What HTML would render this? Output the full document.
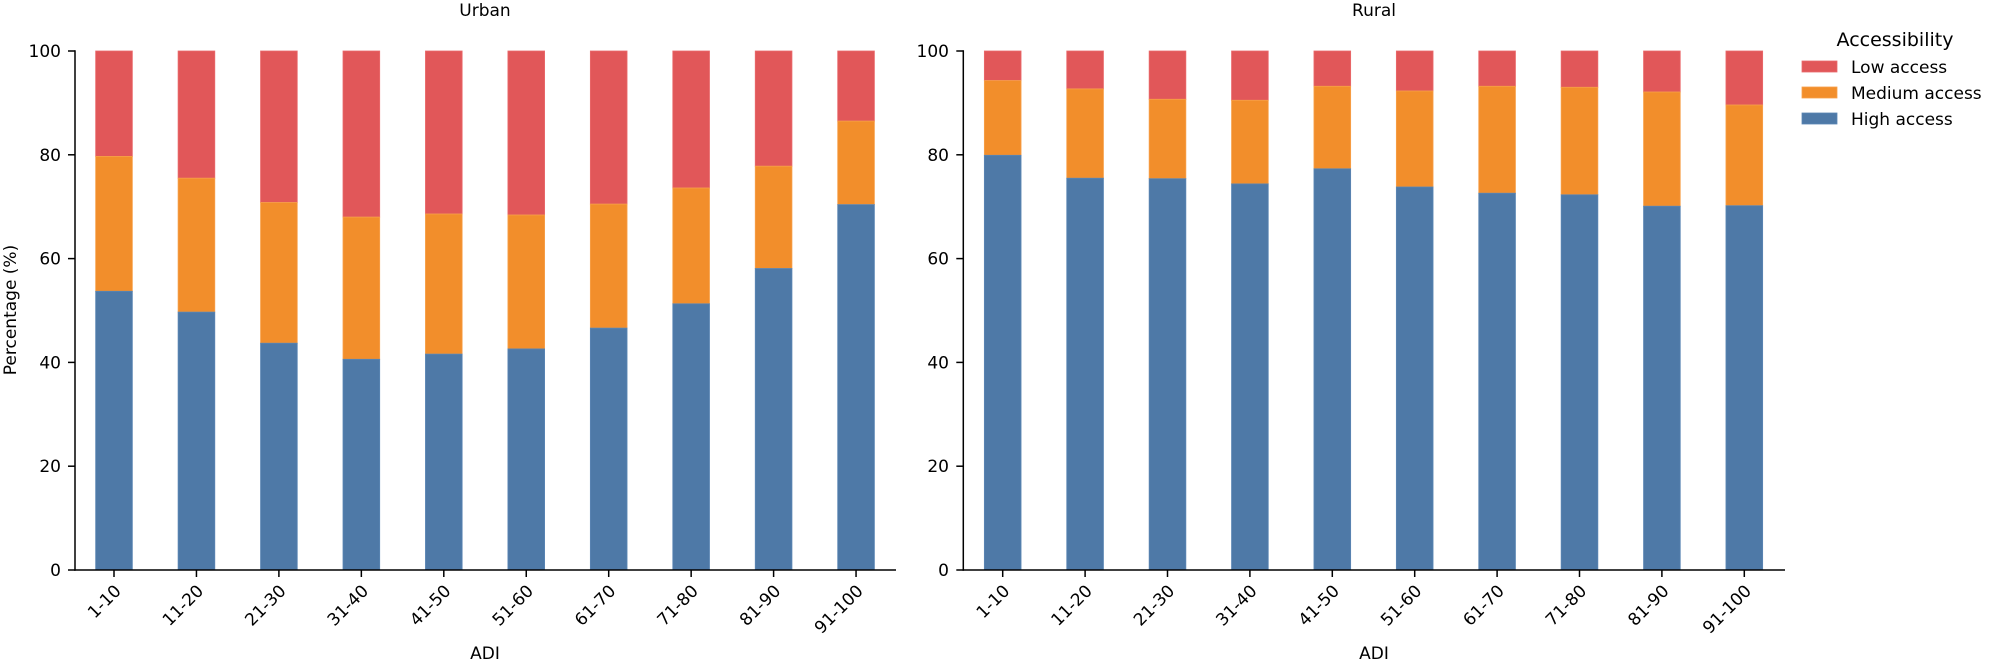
<!DOCTYPE html>
<html><head><meta charset="utf-8"><style>
html,body{margin:0;padding:0;background:#fff}
svg{display:block;font-family:"DejaVu Sans","Liberation Sans",sans-serif}
</style></head><body>
<svg width="1989" height="664" viewBox="0 0 1989 664" xmlns="http://www.w3.org/2000/svg">
<defs>
<g id="yt">
<line x1="-7" y1="570" x2="0" y2="570" stroke="#000" stroke-width="1.5"/>
<line x1="-7" y1="466.2" x2="0" y2="466.2" stroke="#000" stroke-width="1.5"/>
<line x1="-7" y1="362.4" x2="0" y2="362.4" stroke="#000" stroke-width="1.5"/>
<line x1="-7" y1="258.6" x2="0" y2="258.6" stroke="#000" stroke-width="1.5"/>
<line x1="-7" y1="154.8" x2="0" y2="154.8" stroke="#000" stroke-width="1.5"/>
<line x1="-7" y1="51" x2="0" y2="51" stroke="#000" stroke-width="1.5"/>
</g>
</defs>
<style>
.b{fill:#4e79a7;stroke:#5b86b4;stroke-width:0.8}
.m{fill:#f28e2b;stroke:#f7a04a;stroke-width:0.8}
.l{fill:#e15759;stroke:#ea6a6c;stroke-width:0.8}
.t{font-size:17px;fill:#000}
</style>

<text x="485" y="16" text-anchor="middle" class="t">Urban</text>
<text x="1374" y="16" text-anchor="middle" class="t">Rural</text>
<text x="485" y="659" text-anchor="middle" class="t">ADI</text>
<text x="1374" y="659" text-anchor="middle" class="t">ADI</text>
<text transform="translate(16,310) rotate(-90)" text-anchor="middle" class="t">Percentage (%)</text>

<g>
<g transform="translate(95.65,0)"><rect class="l" x="0" y="51" width="36.7" height="105.4"/><rect class="m" x="0" y="156.4" width="36.7" height="134.9"/><rect class="b" x="0" y="291.3" width="36.7" height="278.7"/></g>
<g transform="translate(178.1,0)"><rect class="l" x="0" y="51" width="36.7" height="127.2"/><rect class="m" x="0" y="178.2" width="36.7" height="133.9"/><rect class="b" x="0" y="312.1" width="36.7" height="257.9"/></g>
<g transform="translate(260.55,0)"><rect class="l" x="0" y="51" width="36.7" height="151.5"/><rect class="m" x="0" y="202.5" width="36.7" height="140.7"/><rect class="b" x="0" y="343.2" width="36.7" height="226.8"/></g>
<g transform="translate(343,0)"><rect class="l" x="0" y="51" width="36.7" height="166.1"/><rect class="m" x="0" y="217.1" width="36.7" height="142.2"/><rect class="b" x="0" y="359.3" width="36.7" height="210.7"/></g>
<g transform="translate(425.45,0)"><rect class="l" x="0" y="51" width="36.7" height="163"/><rect class="m" x="0" y="214" width="36.7" height="140.1"/><rect class="b" x="0" y="354.1" width="36.7" height="215.9"/></g>
<g transform="translate(507.9,0)"><rect class="l" x="0" y="51" width="36.7" height="164"/><rect class="m" x="0" y="215" width="36.7" height="133.9"/><rect class="b" x="0" y="348.9" width="36.7" height="221.1"/></g>
<g transform="translate(590.35,0)"><rect class="l" x="0" y="51" width="36.7" height="153.1"/><rect class="m" x="0" y="204.1" width="36.7" height="124"/><rect class="b" x="0" y="328.1" width="36.7" height="241.9"/></g>
<g transform="translate(672.8,0)"><rect class="l" x="0" y="51" width="36.7" height="137"/><rect class="m" x="0" y="188" width="36.7" height="115.8"/><rect class="b" x="0" y="303.8" width="36.7" height="266.2"/></g>
<g transform="translate(755.25,0)"><rect class="l" x="0" y="51" width="36.7" height="115.2"/><rect class="m" x="0" y="166.2" width="36.7" height="102.3"/><rect class="b" x="0" y="268.5" width="36.7" height="301.5"/></g>
<g transform="translate(837.7,0)"><rect class="l" x="0" y="51" width="36.7" height="70.1"/><rect class="m" x="0" y="121.1" width="36.7" height="83.5"/><rect class="b" x="0" y="204.6" width="36.7" height="365.4"/></g>

<line x1="75" y1="50.3" x2="75" y2="570.7" stroke="#000" stroke-width="1.5"/>
<line x1="74.3" y1="570" x2="896" y2="570" stroke="#000" stroke-width="1.5"/>
<use href="#yt" transform="translate(75,0)"/>
<g class="t" text-anchor="end">
<text x="61" y="576">0</text><text x="61" y="472.2">20</text><text x="61" y="368.4">40</text><text x="61" y="264.6">60</text><text x="61" y="160.8">80</text><text x="61" y="57">100</text>
</g>
<g stroke="#000" stroke-width="1.5">
<line x1="114" y1="570" x2="114" y2="577"/><line x1="196.45" y1="570" x2="196.45" y2="577"/><line x1="278.9" y1="570" x2="278.9" y2="577"/><line x1="361.35" y1="570" x2="361.35" y2="577"/><line x1="443.8" y1="570" x2="443.8" y2="577"/><line x1="526.25" y1="570" x2="526.25" y2="577"/><line x1="608.7" y1="570" x2="608.7" y2="577"/><line x1="691.15" y1="570" x2="691.15" y2="577"/><line x1="773.6" y1="570" x2="773.6" y2="577"/><line x1="856.05" y1="570" x2="856.05" y2="577"/>
</g>
<g class="t" text-anchor="end">
<text transform="translate(122,592) rotate(-45)">1-10</text>
<text transform="translate(204.45,592) rotate(-45)">11-20</text>
<text transform="translate(286.9,592) rotate(-45)">21-30</text>
<text transform="translate(369.35,592) rotate(-45)">31-40</text>
<text transform="translate(451.8,592) rotate(-45)">41-50</text>
<text transform="translate(534.25,592) rotate(-45)">51-60</text>
<text transform="translate(616.7,592) rotate(-45)">61-70</text>
<text transform="translate(699.15,592) rotate(-45)">71-80</text>
<text transform="translate(781.6,592) rotate(-45)">81-90</text>
<text transform="translate(864.05,592) rotate(-45)">91-100</text>
</g>
</g>

<g>
<g transform="translate(984.35,0)"><rect class="l" x="0" y="51" width="36.7" height="29.6"/><rect class="m" x="0" y="80.6" width="36.7" height="74.7"/><rect class="b" x="0" y="155.3" width="36.7" height="414.7"/></g>
<g transform="translate(1066.75,0)"><rect class="l" x="0" y="51" width="36.7" height="37.9"/><rect class="m" x="0" y="88.9" width="36.7" height="89.3"/><rect class="b" x="0" y="178.2" width="36.7" height="391.8"/></g>
<g transform="translate(1149.15,0)"><rect class="l" x="0" y="51" width="36.7" height="48.3"/><rect class="m" x="0" y="99.3" width="36.7" height="79.4"/><rect class="b" x="0" y="178.7" width="36.7" height="391.3"/></g>
<g transform="translate(1231.55,0)"><rect class="l" x="0" y="51" width="36.7" height="49.3"/><rect class="m" x="0" y="100.3" width="36.7" height="83.6"/><rect class="b" x="0" y="183.9" width="36.7" height="386.1"/></g>
<g transform="translate(1313.95,0)"><rect class="l" x="0" y="51" width="36.7" height="35.3"/><rect class="m" x="0" y="86.3" width="36.7" height="82.5"/><rect class="b" x="0" y="168.8" width="36.7" height="401.2"/></g>
<g transform="translate(1396.35,0)"><rect class="l" x="0" y="51" width="36.7" height="40"/><rect class="m" x="0" y="91" width="36.7" height="96"/><rect class="b" x="0" y="187" width="36.7" height="383"/></g>
<g transform="translate(1478.75,0)"><rect class="l" x="0" y="51" width="36.7" height="35.3"/><rect class="m" x="0" y="86.3" width="36.7" height="106.9"/><rect class="b" x="0" y="193.2" width="36.7" height="376.8"/></g>
<g transform="translate(1561.15,0)"><rect class="l" x="0" y="51" width="36.7" height="36.3"/><rect class="m" x="0" y="87.3" width="36.7" height="107.5"/><rect class="b" x="0" y="194.8" width="36.7" height="375.2"/></g>
<g transform="translate(1643.55,0)"><rect class="l" x="0" y="51" width="36.7" height="41"/><rect class="m" x="0" y="92" width="36.7" height="114.2"/><rect class="b" x="0" y="206.2" width="36.7" height="363.8"/></g>
<g transform="translate(1725.95,0)"><rect class="l" x="0" y="51" width="36.7" height="54"/><rect class="m" x="0" y="105" width="36.7" height="100.7"/><rect class="b" x="0" y="205.7" width="36.7" height="364.3"/></g>

<line x1="963.3" y1="50.3" x2="963.3" y2="570.7" stroke="#000" stroke-width="1.5"/>
<line x1="962.6" y1="570" x2="1785" y2="570" stroke="#000" stroke-width="1.5"/>
<use href="#yt" transform="translate(963.3,0)"/>
<g class="t" text-anchor="end">
<text x="949" y="576">0</text><text x="949" y="472.2">20</text><text x="949" y="368.4">40</text><text x="949" y="264.6">60</text><text x="949" y="160.8">80</text><text x="949" y="57">100</text>
</g>
<g stroke="#000" stroke-width="1.5">
<line x1="1002.7" y1="570" x2="1002.7" y2="577"/><line x1="1085.1" y1="570" x2="1085.1" y2="577"/><line x1="1167.5" y1="570" x2="1167.5" y2="577"/><line x1="1249.9" y1="570" x2="1249.9" y2="577"/><line x1="1332.3" y1="570" x2="1332.3" y2="577"/><line x1="1414.7" y1="570" x2="1414.7" y2="577"/><line x1="1497.1" y1="570" x2="1497.1" y2="577"/><line x1="1579.5" y1="570" x2="1579.5" y2="577"/><line x1="1661.9" y1="570" x2="1661.9" y2="577"/><line x1="1744.3" y1="570" x2="1744.3" y2="577"/>
</g>
<g class="t" text-anchor="end">
<text transform="translate(1010.7,592) rotate(-45)">1-10</text>
<text transform="translate(1093.1,592) rotate(-45)">11-20</text>
<text transform="translate(1175.5,592) rotate(-45)">21-30</text>
<text transform="translate(1257.9,592) rotate(-45)">31-40</text>
<text transform="translate(1340.3,592) rotate(-45)">41-50</text>
<text transform="translate(1422.7,592) rotate(-45)">51-60</text>
<text transform="translate(1505.1,592) rotate(-45)">61-70</text>
<text transform="translate(1587.5,592) rotate(-45)">71-80</text>
<text transform="translate(1669.9,592) rotate(-45)">81-90</text>
<text transform="translate(1752.3,592) rotate(-45)">91-100</text>
</g>
</g>

<text x="1895" y="46" text-anchor="middle" style="font-size:19px" fill="#000">Accessibility</text>
<rect class="l" x="1802" y="61" width="35" height="11"/>
<rect class="m" x="1802" y="87" width="35" height="11"/>
<rect class="b" x="1802" y="113" width="35" height="11"/>
<text x="1851" y="73" class="t">Low access</text>
<text x="1851" y="99" class="t">Medium access</text>
<text x="1851" y="125" class="t">High access</text>
</svg>
</body></html>
